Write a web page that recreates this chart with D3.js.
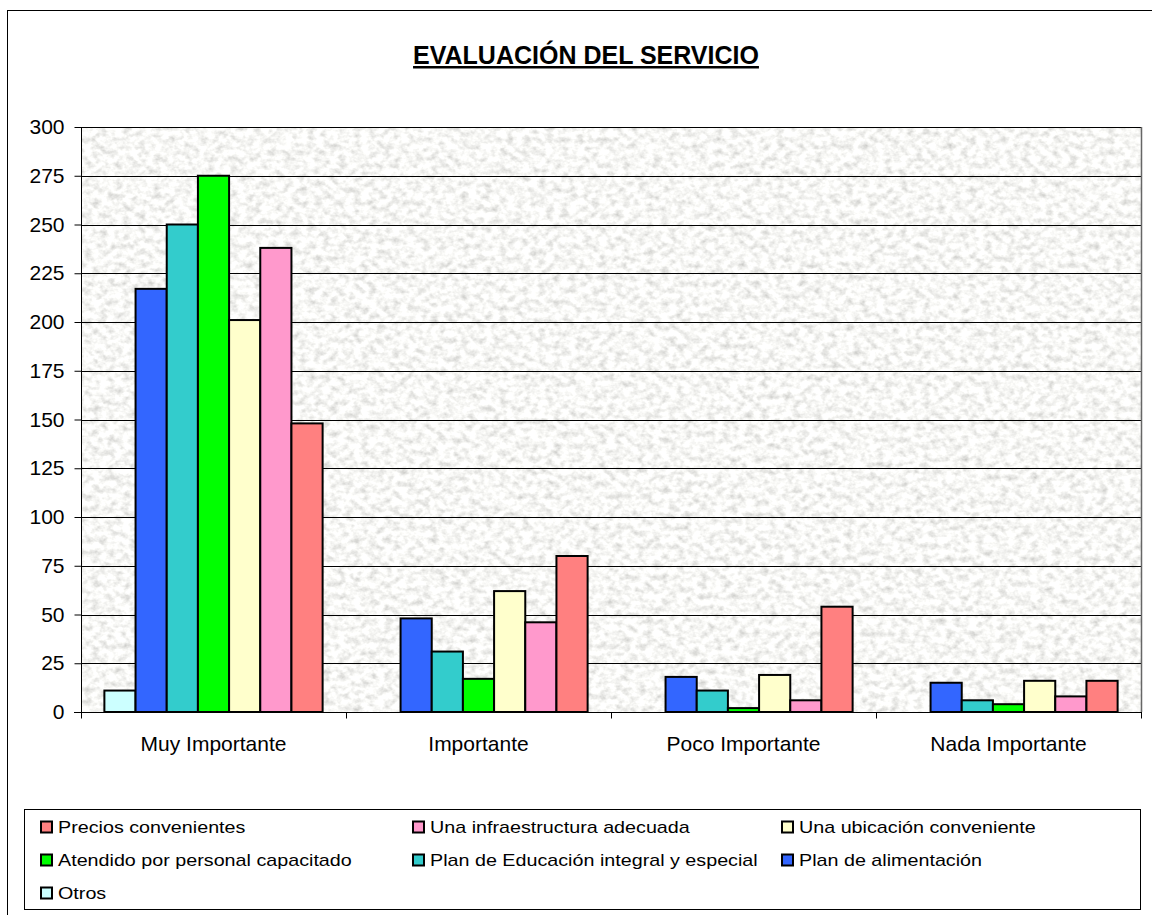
<!DOCTYPE html>
<html>
<head>
<meta charset="utf-8">
<script src="https://cdn.jsdelivr.net/npm/d3@7"></script>
<style>
  html, body { margin: 0; padding: 0; background: #fff; }
  svg { display: block; font-family: "Liberation Sans", Arial, sans-serif; }
</style>
</head>
<body>
<svg id="chart" width="1152" height="915"></svg>
<script>
// Survey results: importance rating of each service aspect
const categories = ["Muy Importante", "Importante", "Poco Importante", "Nada Importante"];
const seriesNames = [
  "Otros",
  "Plan de alimentación",
  "Plan de Educación integral y especial",
  "Atendido por personal capacitado",
  "Una ubicación conveniente",
  "Una infraestructura adecuada",
  "Precios convenientes"
];
const seriesColors = ["#CCFFFF", "#3366FF", "#33CCCC", "#00FF00", "#FFFFCC", "#FF99CC", "#FF8080"];
// One row per series, one value per category
const otros          = [11, 0, 0, 0];
const alimentacion   = [217, 48, 18, 15];
const educacion      = [250, 31, 11, 6];
const atendido       = [275, 17, 2, 4];
const ubicacion      = [201, 62, 19, 16];
const infraestructura= [238, 46, 6, 8];
const precios        = [148, 80, 54, 16];
const seriesValues = [otros, alimentacion, educacion, atendido, ubicacion, infraestructura, precios];
const yTicks = [0, 25, 50, 75, 100, 125, 150, 175, 200, 225, 250, 275, 300];
// Legend reads in reverse series order, three per row
const legendOrder = [6, 5, 4, 3, 2, 1, 0];

const svg = d3.select("#chart");
const plot = { left: 81, right: 1141, top: 127, bottom: 712 };

// Granite-like texture for the plot area
const defs = svg.append("defs");
const filt = defs.append("filter").attr("id", "granite")
  .attr("x", 0).attr("y", 0).attr("width", "100%").attr("height", "100%")
  .attr("filterUnits", "objectBoundingBox");
filt.append("feTurbulence").attr("type", "fractalNoise")
  .attr("baseFrequency", "0.13 0.16").attr("numOctaves", 3).attr("seed", 7).attr("result", "noise");
filt.append("feColorMatrix").attr("type", "matrix").attr("in", "noise")
  .attr("values", [
    "0.75 0 0 0 0.56",
    "0.75 0 0 0 0.56",
    "0.75 0 0 0 0.54",
    "0 0 0 0 1"
  ].join(" "));

// Outer chart frame
svg.append("rect").attr("x", 7.5).attr("y", 10.5).attr("width", 1160).attr("height", 920)
  .attr("fill", "none").attr("stroke", "#000").attr("stroke-width", 1);

// Title
svg.append("text").attr("x", 586).attr("y", 64).attr("text-anchor", "middle")
  .attr("font-size", 25).attr("font-weight", "bold").attr("text-decoration", "underline")
  .text("EVALUACIÓN DEL SERVICIO");

const x0 = d3.scaleBand().domain(categories).range([plot.left, plot.right]).paddingInner(0).paddingOuter(0);
const x1 = d3.scaleBand().domain(d3.range(seriesNames.length)).range([0, x0.bandwidth()])
  .paddingInner(0).paddingOuter(0.75);
const y = d3.scaleLinear().domain([0, 300]).range([plot.bottom, plot.top]);

// Plot background
svg.append("rect").attr("x", plot.left).attr("y", plot.top)
  .attr("width", plot.right - plot.left).attr("height", plot.bottom - plot.top)
  .attr("filter", "url(#granite)");

// Horizontal gridlines
svg.append("g").selectAll("line").data(yTicks.filter(t => t > 0)).join("line")
  .attr("x1", plot.left).attr("x2", plot.right)
  .attr("y1", d => Math.round(y(d)) + 0.5).attr("y2", d => Math.round(y(d)) + 0.5)
  .attr("stroke", "#000").attr("stroke-width", 1);

// Plot-area border on the right
svg.append("line").attr("x1", plot.right + 0.5).attr("x2", plot.right + 0.5)
  .attr("y1", plot.top).attr("y2", plot.bottom)
  .attr("stroke", "#666").attr("stroke-width", 1.5);

// Bars
const groups = svg.append("g").selectAll("g").data(categories).join("g")
  .attr("transform", d => `translate(${x0(d)},0)`);
groups.selectAll("rect")
  .data((c, ci) => seriesValues.map((vals, si) => ({ si, v: vals[ci] })).filter(d => d.v > 0))
  .join("rect")
  .attr("x", d => x1(d.si))
  .attr("width", x1.bandwidth())
  .attr("y", d => y(d.v))
  .attr("height", d => y(0) - y(d.v))
  .attr("fill", d => seriesColors[d.si])
  .attr("stroke", "#000").attr("stroke-width", 2);

// Y axis
const yAxis = d3.axisLeft(y).tickValues(yTicks).tickSize(7).tickPadding(10);
const gy = svg.append("g").attr("transform", `translate(${plot.left + 0.5},0)`).call(yAxis);
gy.select(".domain").attr("d", `M0,${plot.top}V${plot.bottom + 6}`).attr("stroke", "#000");
gy.selectAll("text").attr("font-size", 21).attr("font-family", "Liberation Sans, Arial, sans-serif").attr("fill", "#000");

// X axis
const gx = svg.append("g").attr("transform", `translate(0,${plot.bottom + 0.5})`);
gx.append("line").attr("x1", plot.left - 7).attr("x2", plot.right + 1).attr("stroke", "#000");
const boundaries = categories.map(c => x0(c)).concat([plot.right]);
gx.selectAll("line.tick").data(boundaries).join("line").attr("class", "tick")
  .attr("x1", d => Math.round(d) + 0.5).attr("x2", d => Math.round(d) + 0.5)
  .attr("y1", 0).attr("y2", 6).attr("stroke", "#000");
gx.selectAll("text").data(categories).join("text")
  .attr("x", d => x0(d) + x0.bandwidth() / 2).attr("y", 38)
  .attr("text-anchor", "middle").attr("font-size", 21).text(d => d);

// Legend
const legend = svg.append("g");
legend.append("rect").attr("x", 24.5).attr("y", 809.5).attr("width", 1116).attr("height", 100)
  .attr("fill", "#fff").attr("stroke", "#000").attr("stroke-width", 1);
const colX = [41, 413, 782];
const rowY = [827, 860, 893];
legendOrder.forEach((si, i) => {
  const cx = colX[i % 3], cy = rowY[Math.floor(i / 3)];
  legend.append("rect").attr("x", cx).attr("y", cy - 5.5).attr("width", 11).attr("height", 11)
    .attr("fill", seriesColors[si]).attr("stroke", "#000").attr("stroke-width", 2);
  legend.append("text")
    .attr("transform", `translate(${cx + 17},${cy + 6}) scale(1.16,1)`)
    .attr("font-size", 17).text(seriesNames[si]);
});
</script>
</body>
</html>
